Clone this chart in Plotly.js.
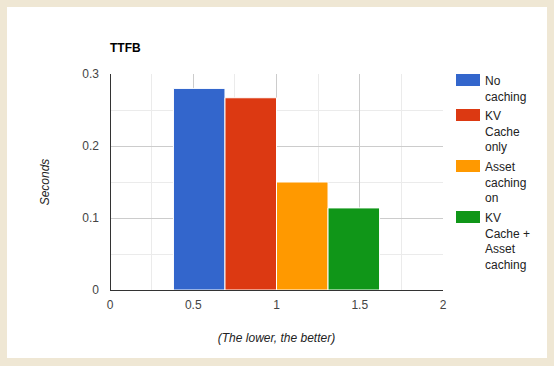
<!DOCTYPE html>
<html>
<head>
<meta charset="utf-8">
<script src="https://cdn.plot.ly/plotly-3.0.1.min.js"></script>
<style>
  html, body { margin: 0; padding: 0; background: #efe7d4; }
  #wrap { position: relative; width: 554px; height: 366px; }
  #panel { position: absolute; left: 7px; top: 7px; width: 540px; height: 351px; background: #ffffff; }
  #chart { position: absolute; left: 0; top: 0; width: 554px; height: 366px; }
</style>
</head>
<body>
<div id="wrap"><div id="panel"></div><div id="chart"></div></div>
<script>
// ---- data ----
const seriesNames = ['No caching', 'KV Cache only', 'Asset caching on', 'KV Cache + Asset caching'];
const legendLabels = ['No<br>caching', 'KV<br>Cache<br>only', 'Asset<br>caching<br>on', 'KV<br>Cache +<br>Asset<br>caching'];
const xCategory = [1];
const ttfbValues = [0.28, 0.267, 0.15, 0.114];
const seriesColors = ['#3366cc', '#dc3912', '#ff9900', '#109618'];

// ---- layout geometry ----
const W = 554, H = 366;
const M = { l: 110, r: 111, t: 74, b: 76 };
const plotW = W - M.l - M.r, plotH = H - M.t - M.b;
const pxX = px => (px - M.l) / plotW;
const pxY = py => (H - M.b - py) / plotH;

const groupWidth = 1.238;
const barWidth = groupWidth / seriesNames.length;

const traces = seriesNames.map((name, i) => ({
  type: 'bar',
  name: name,
  x: xCategory,
  y: [ttfbValues[i]],
  width: [barWidth],
  offset: [-groupWidth / 2 + i * barWidth],
  marker: { color: seriesColors[i], line: { color: '#ffffff', width: 1 } },
  hoverinfo: 'none',
  showlegend: false
}));

// custom legend (wide swatches, wrapped labels)
const shapes = [];
const annotations = [];
let entryTop = 74;
legendLabels.forEach((lab, i) => {
  const lines = lab.split('<br>').length;
  shapes.push({
    type: 'rect', xref: 'paper', yref: 'paper',
    x0: pxX(456), x1: pxX(480), y0: pxY(entryTop), y1: pxY(entryTop + 12),
    fillcolor: seriesColors[i], line: { width: 0 }
  });
  annotations.push({
    xref: 'paper', yref: 'paper', x: pxX(483), y: pxY(entryTop - 2),
    xanchor: 'left', yanchor: 'top', align: 'left', showarrow: false,
    text: lab, font: { family: 'Liberation Sans, Arial, sans-serif', size: 12, color: '#222222' }
  });
  entryTop += lines * 16 + 3;
});

const layout = {
  width: W, height: H,
  margin: M,
  paper_bgcolor: 'rgba(0,0,0,0)',
  plot_bgcolor: '#ffffff',
  barmode: 'overlay',
  showlegend: false,
  font: { family: 'Liberation Sans, Arial, sans-serif', size: 12, color: '#444444' },
  title: {
    text: '<b>TTFB</b>', xref: 'paper', x: 0, xanchor: 'left',
    yref: 'container', y: 1 - 48 / H, yanchor: 'middle',
    font: { size: 12, color: '#000000' }
  },
  xaxis: {
    range: [0, 2], dtick: 0.5, tick0: 0,
    showgrid: true, gridcolor: '#cccccc', gridwidth: 1,
    minor: { dtick: 0.25, showgrid: true, gridcolor: '#ebebeb', gridwidth: 1 },
    zeroline: true, zerolinecolor: '#333333', zerolinewidth: 1,
    showline: false, ticks: '', ticklabelstandoff: 6,
    fixedrange: true,
    title: { text: '<i>(The lower, the better)</i>', standoff: 22, font: { size: 12, color: '#222222' } }
  },
  yaxis: {
    range: [0, 0.3], dtick: 0.1, tick0: 0,
    showgrid: true, gridcolor: '#cccccc', gridwidth: 1,
    minor: { dtick: 0.05, showgrid: true, gridcolor: '#ebebeb', gridwidth: 1 },
    zeroline: true, zerolinecolor: '#333333', zerolinewidth: 1,
    showline: false, ticks: '', ticklabelstandoff: 10,
    fixedrange: true,
    title: { text: '<i>Seconds</i>', standoff: 30, font: { size: 12, color: '#222222' } }
  },
  shapes: shapes,
  annotations: annotations
};

Plotly.newPlot('chart', traces, layout, { displayModeBar: false, staticPlot: true });
</script>
</body>
</html>
